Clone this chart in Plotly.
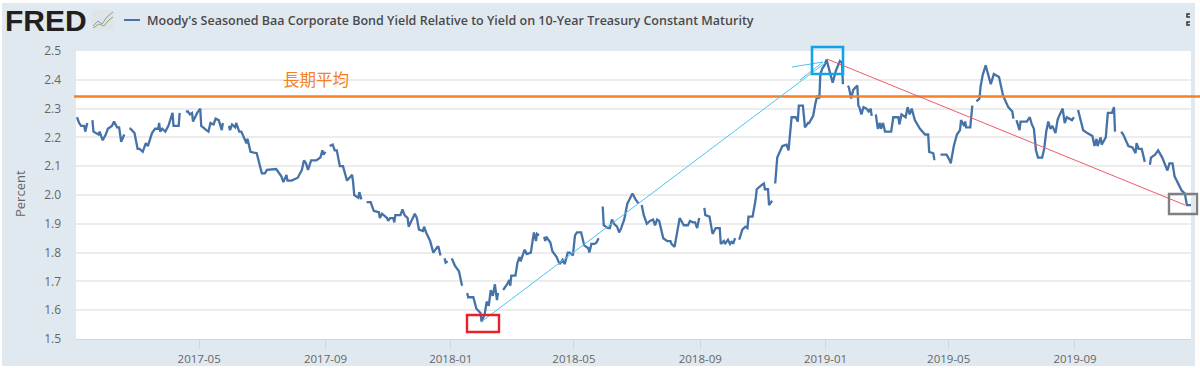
import pandas as pd
import plotly.graph_objects as go

START_DATE = "2017-01-01"
END_DAY = 1086
TITLE = "Moody's Seasoned Baa Corporate Bond Yield Relative to Yield on 10-Year Treasury Constant Maturity"
AVG_LABEL = "長期平均"
LONG_RUN_AVERAGE = 2.343
TICK_DATES = ["2017-05-01", "2017-09-01", "2018-01-01", "2018-05-01", "2018-09-01", "2019-01-01", "2019-05-01", "2019-09-01"]
TICK_LABELS = ["2017-05", "2017-09", "2018-01", "2018-05", "2018-09", "2019-01", "2019-05", "2019-09"]
Y_TICKS = [1.5, 1.6, 1.7, 1.8, 1.9, 2.0, 2.1, 2.2, 2.3, 2.4, 2.5]

# (days since 2017-01-01, percent); None marks a gap in the series
days = [1,3,5,8,9,11,13, 16,17,22,23,26,29,31,35,37,40,42,44,47,49, 52,53,57,60,62,65,68,70,74,77,80,81,82,84,87,90,94,95,100,101,104,
 107,109,111,113,114,118,121,122,127,129,131,134,136,139,142,143,146, 149,150,152,155,156,159,161,166,167,170,176,179,181,184,186,195,200,202,205,206,210,216,220,222,224,226,229,234,238,240,241,243,245,
 247,250,252,254,257,260,264,267,269,270,271,275,276,278,280, 283,287,290,295,296,298,303,304,306,309,310,311,316,318,320,323,324,327,330,332,334,338,339,341,345,348,352,353,355,357,
 359,360,362,364, 366,368,369,373,376,378, 381,382,387,390,394,395,398,400,402,404,406,408,410,411,413,
 416,420,422,423,424,428,430,432,433,437,439,443,446,448,449,451,453, 456,457,458,462,464,468,471,474,476,479,481,484,486,488,492,495,499,500,502,505,507,509,511,
 513,514,518,520,522,524,527,529,531,534,537,540,542,545,548,549, 551,553,556,559,562,564,566,568,572,576,579,580,583,588,592,596,598,601,603,605,607,609,
 612,613,617,620,623,627,628,631,632,635,637,639,640,642,644, 646,649,652,654,655,659,662,663,668,670,671,674,675,678,679,
 681,683,688,692,694,697,701,703,704,708,710,713,714,718,720,722,724,725,727,729,731,733,737,740,744,746,747,749,
 752,753,755,757,761,762,763,765,767,770,772,774,775,777, 779,781,783,784,786,788,794,796,801,802,804,808,810,812,814,817,822,827,830,831,835,836,837,839,
 842,848,851,852,855,858,861,862,865,866,867,871,873,875, 877,880,881,883,886,888,891,894,897,899,903,905,908,912,913,915,
 916,919,920,926,929,931,933,935,937,941,943,945,947,949,951,954,956,957,961,963,965,970,972,974,
 976,978,981,985,990,992,994,995,998,999,1003,1005,1009,1011,1012,1015,
 1018,1020,1025,1029,1032,1033,1035,1038,1041,1043, 1046,1047,1051,1054,1058,1059,1063,1065,1068,1070,1072,1077,1080,1082,1086]
values = [2.27,2.25,2.24,2.24,2.22,2.25,None, 2.26,2.22,2.21,2.22,2.19,2.21,2.23,2.24,2.255,2.235,2.235,2.185,2.21,None, 2.23,2.23,2.215,2.16,2.16,2.15,2.18,2.17,2.215,2.23,2.23,2.25,2.22,2.23,2.22,2.24,2.285,2.24,2.24,2.285,None,
 2.29,2.29,2.28,2.285,2.255,2.285,2.30,2.24,2.225,2.22,2.25,2.245,2.265,2.26,2.225,2.25,None, 2.24,2.225,2.245,2.235,2.25,2.22,2.22,2.18,2.195,2.15,2.145,2.10,2.075,2.075,2.087,2.09,2.065,2.045,2.07,2.05,2.05,2.06,2.087,2.12,2.11,2.087,2.12,2.12,2.13,2.155,2.14,2.15,None,
 2.17,2.175,2.155,2.155,2.10,2.10,2.05,2.06,2.07,2.04,2.0,1.99,2.01,1.985,None, 1.975,1.975,1.945,1.94,1.92,1.935,1.92,1.91,1.92,1.92,1.905,1.93,1.93,1.95,1.93,1.92,1.89,1.91,1.935,1.92,1.88,1.875,1.89,1.87,1.84,1.80,1.82,1.82,1.79,None,
 1.78,1.765,1.77,None, 1.78,1.76,1.755,1.735,1.685,None, 1.66,1.645,1.645,1.605,1.59,1.56,1.585,1.63,1.615,1.67,1.65,1.69,1.635,1.66,None,
 1.67,1.69,1.705,1.685,1.72,1.72,1.765,1.785,1.77,1.81,1.795,1.80,1.87,1.84,1.865,1.86,None, 1.855,1.84,1.855,1.835,1.805,1.785,1.76,1.775,1.76,1.80,1.80,1.79,1.86,1.87,1.87,1.825,1.815,1.80,1.83,1.83,1.835,1.85,None,
 1.96,1.895,1.885,1.885,1.915,1.90,1.89,1.87,1.885,1.915,1.97,1.99,2.005,1.985,1.97,None, 1.965,1.93,1.90,1.91,1.915,1.895,1.915,1.91,1.85,1.84,1.84,1.83,1.82,1.92,1.895,1.895,1.91,1.905,1.905,1.885,1.92,None,
 1.955,1.93,1.925,1.865,1.885,1.885,1.83,1.84,1.83,1.845,1.83,1.84,1.83,1.85,None, 1.845,1.88,1.89,1.885,1.925,1.925,1.985,2.02,2.035,2.04,2.02,2.02,1.965,1.98,None,
 2.04,2.13,2.17,2.175,2.155,2.27,2.27,2.255,2.31,2.31,2.235,2.25,2.25,2.275,2.315,2.345,2.335,2.42,2.44,2.45,2.47,2.44,2.39,2.43,2.465,2.46,2.385,None,
 2.38,2.37,2.335,2.365,2.38,2.31,2.305,2.28,2.305,2.30,2.29,2.30,2.275,None, 2.28,2.23,2.25,2.23,2.25,2.22,2.22,2.27,2.27,2.245,2.28,2.27,2.305,2.28,2.30,2.26,2.23,2.21,2.21,2.15,2.145,2.125,2.125,None,
 2.14,2.14,2.12,2.11,2.17,2.21,2.225,2.26,2.24,2.255,2.235,2.235,2.31,None, 2.325,2.335,2.375,2.415,2.45,2.42,2.385,2.42,2.415,2.41,2.345,2.33,2.305,2.29,2.265,None,
 2.26,2.225,2.255,2.255,2.27,2.245,2.23,2.155,2.13,2.13,2.16,2.22,2.255,2.23,2.24,2.215,2.26,2.27,2.30,2.25,2.27,2.26,2.27,None,
 2.295,2.265,2.225,2.215,2.205,2.17,2.195,2.17,2.20,2.175,2.20,2.285,2.285,2.305,2.22,None,
 2.22,2.21,2.17,2.165,2.145,2.18,2.16,2.16,2.115,None, 2.105,2.13,2.14,2.155,2.13,2.12,2.085,2.11,2.11,2.065,2.05,2.015,2.005,1.965,1.965]

assert len(days) == len(values)
dates = pd.Timestamp(START_DATE) + pd.to_timedelta(days, unit="D")
x_end = pd.Timestamp(START_DATE) + pd.Timedelta(days=END_DAY)

BG = "#e1e9f0"
LINE = "#4572a7"
L, R, T, B = 76, 1191, 51, 339

def px(x):
    return (x - L) / (R - L)

def py(y):
    return 1 - (y - T) / (B - T)

def seg(x0, y0, x1, y1, color, width):
    return dict(type="line", xref="paper", yref="paper", x0=px(x0), y0=py(y0), x1=px(x1), y1=py(y1),
                line=dict(color=color, width=width), layer="above")

def box(x0, y0, x1, y1, line=None, width=0, fill="rgba(0,0,0,0)"):
    return dict(type="rect", xref="paper", yref="paper", x0=px(x0), y0=py(y0), x1=px(x1), y1=py(y1),
                line=dict(color=line or "rgba(0,0,0,0)", width=width), fillcolor=fill, layer="above")

def poly(points, color, width):
    path = "M" + " L".join(f"{px(a):.5f},{py(b):.5f}" for a, b in points)
    return dict(type="path", xref="paper", yref="paper", path=path, line=dict(color=color, width=width), layer="above")

shapes = [
    # page margin around the tinted panel
    box(0, 0, 1200, 3, fill="white"), box(0, 366, 1200, 368, fill="white"),
    box(0, 0, 2, 368, fill="white"), box(1195, 0, 1200, 368, fill="white"),
    # header glyphs
    box(92, 10, 114, 30, fill="#dfe4e6"),
    poly([(93, 26), (98, 21), (102, 24), (107, 17), (113, 12)], "#7f9fbd", 1),
    poly([(93, 28), (99, 24), (104, 26), (109, 20), (113, 17)], "#8aab5c", 1),
    seg(124, 20, 140, 20, LINE, 2),
    poly([(1190, 17), (1187, 17), (1187, 14), (1190, 14)], "#333333", 1.5),
    poly([(1190, 22), (1187, 22), (1187, 25), (1190, 25)], "#333333", 1.5),
    # hand-drawn overlay
    seg(74, 96.5, 1200, 96.5, "#f58025", 2.4),
    seg(481, 322, 825, 63, "#4fc3ee", 1),
    seg(792, 67, 823, 62, "#4fc3ee", 1),
    seg(800, 80, 823, 62, "#4fc3ee", 1),
    seg(827, 59, 1185, 205, "#f0596a", 1),
    box(812, 47, 843, 74, "#12a5e6", 2.6),
    box(467, 315, 499, 332, "#e8202a", 2.4),
    box(1169, 194, 1197, 214, "#808080", 2.4),
]

annotations = [
    dict(text="<b>FRED</b>", xref="paper", yref="paper", x=px(3), y=py(20.5), xanchor="left", yanchor="middle",
         showarrow=False, font=dict(family="Liberation Sans", size=30, color="#231f20")),
    dict(text=TITLE, xref="paper", yref="paper", x=px(145), y=py(20.5), xanchor="left", yanchor="middle",
         showarrow=False, font=dict(family="Open Sans", size=12.5, color="#4a4a4a", weight=600)),
    dict(text=AVG_LABEL, xref="paper", yref="paper", x=px(316), y=py(79), xanchor="center", yanchor="middle",
         showarrow=False, font=dict(family="Noto Sans CJK JP", size=16.5, color="#f58025")),
    dict(text="Percent", xref="paper", yref="paper", x=px(20), y=py(194), xanchor="center", yanchor="middle",
         textangle=-90, showarrow=False, font=dict(family="Open Sans", size=13, color="#666666")),
]

fig = go.Figure(go.Scatter(x=dates, y=values, mode="lines", connectgaps=False,
                           line=dict(color=LINE, width=2.3, shape="linear"), hoverinfo="skip"))
fig.update_layout(
    width=1200, height=368, margin=dict(l=L, r=1200 - R, t=T, b=368 - B, pad=0, autoexpand=False),
    paper_bgcolor=BG, plot_bgcolor="white", showlegend=False,
    shapes=shapes, annotations=annotations,
    font=dict(family="Open Sans", size=11.5, color="#666666"),
)
fig.update_xaxes(range=[START_DATE, x_end], tickmode="array", tickvals=TICK_DATES, ticktext=TICK_LABELS,
                 ticks="outside", ticklen=9, tickcolor="#ccd6eb", tickwidth=1, showgrid=False, showline=True,
                 linecolor="#ccd6eb", linewidth=1, zeroline=False, automargin=False,
                 tickfont=dict(family="Open Sans", size=11.5, color="#666666"))
fig.update_yaxes(range=[1.5, 2.5], tickmode="array", tickvals=Y_TICKS, ticktext=[f"{v:.1f}" for v in Y_TICKS],
                 showgrid=True, gridcolor="#ececec", gridwidth=1.5, zeroline=False, showline=False,
                 ticks="", ticklabelstandoff=14, automargin=False,
                 tickfont=dict(family="Open Sans", size=12, color="#666666"))

fig.write_html("out.html", config=dict(displayModeBar=False),
               post_script="document.body.style.margin='0';document.body.style.overflow='hidden';")
